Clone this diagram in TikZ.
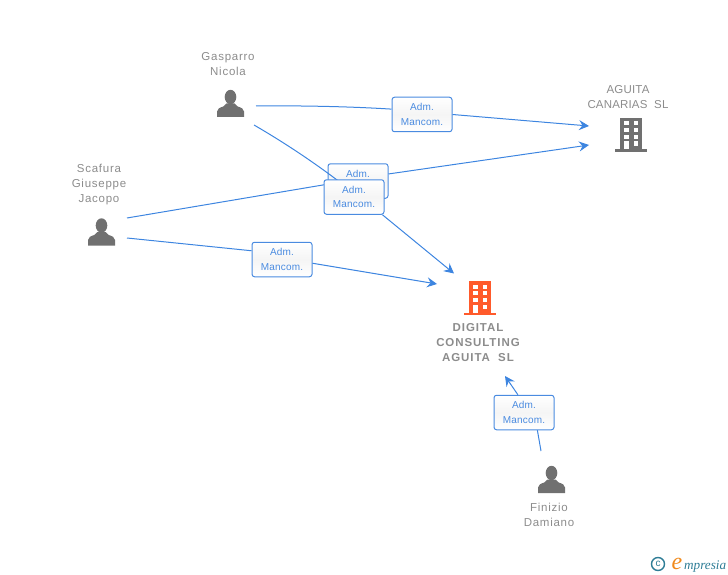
\documentclass[tikz,border=0pt]{standalone}
\usepackage{fontspec}
\setmainfont{Liberation Sans}
\newfontfamily\logofont{Liberation Serif}
\usetikzlibrary{arrows.meta}
\definecolor{linkblue}{HTML}{3D85E0}
\definecolor{boxblue}{HTML}{4A8BE0}
\definecolor{labgray}{HTML}{8C8C8C}
\definecolor{icongray}{HTML}{707070}
\definecolor{iconorange}{HTML}{FF5A2B}
\definecolor{logoteal}{HTML}{2E7D96}
\definecolor{logoorange}{HTML}{F08A1D}
\tikzset{
  rolebox/.style={draw=boxblue,line width=1pt,rounded corners=2.5pt,minimum width=60pt,minimum height=34.5pt,
    inner sep=0pt,top color=white,bottom color=white,middle color=black!4,text=boxblue,align=center,
    font=\fontsize{10}{14.5}\selectfont\addfontfeature{LetterSpace=2}},
  link/.style={draw=linkblue,line width=1pt},
  arrowlink/.style={link,-{Stealth[length=10pt,width=10pt,inset=3.5pt]}},
  caption/.style={text=labgray,align=center,inner sep=0pt,font=\fontsize{11.5}{15}\selectfont\addfontfeature{LetterSpace=6.5}},
  capscaption/.style={text=labgray,align=center,inner sep=0pt,font=\fontsize{11.5}{15}\selectfont\addfontfeature{LetterSpace=1.5}},
  boldcaption/.style={text=labgray,align=center,inner sep=0pt,font=\fontsize{11.5}{15}\selectfont\bfseries\addfontfeature{LetterSpace=8}},
  person/.pic={
    \fill[icongray] (13.5,7) ellipse (5.8 and 7.2);
    \fill[icongray] (0,27) -- (0,21.5) .. controls (0,18.5) and (3,17.6) .. (6.5,16.4)
      -- (9.5,13.5) -- (17.5,13.5) -- (20.5,16.4) .. controls (24,17.6) and (27,18.5) .. (27,21.5) -- (27,27) -- cycle;
  },
  building/.pic={
    \fill[#1] (5,0) rectangle (27,31.5);
    \fill[#1] (0,31.5) rectangle (32,34);
    \foreach \yy in {3.5,10,17}{
      \fill[white] (9,\yy) rectangle (13.5,\yy+4);
      \fill[white] (18.5,\yy) rectangle (23,\yy+4);
    }
    \fill[white] (9,23.5) rectangle (13.5,31.5);
    \fill[white] (18.5,23.5) rectangle (23,28);
  },
}
\begin{document}
\begin{tikzpicture}[x=1pt,y=-1pt]
\useasboundingbox (0,0) rectangle (728,575);
% icons
\pic at (217,90) {person};
\pic at (88,218.5) {person};
\pic at (538,466) {person};
\pic at (615,118) {building=icongray};
\pic at (464,281) {building=iconorange};
% captions
\node[caption] (gasparro) at (228,64.5) {Gasparro\\Nicola};
\node[caption] (scafura) at (99,185) {Scafura\\Giuseppe\\Jacopo};
\node[caption] (finizio) at (549,515) {Finizio\\Damiano};
\node[capscaption] (aguita) at (628,97) {AGUITA\\CANARIAS\ \ SL};
\node[boldcaption] (digital) at (478,343) {DIGITAL\\CONSULTING\\AGUITA\ \ SL};
% connector ends
\coordinate (gasA) at (256,106);
\coordinate (gasB) at (254,125);
\coordinate (scaA) at (127,218);
\coordinate (scaB) at (127,238);
\coordinate (finA) at (541,451);
\coordinate (agu1) at (589,126);
\coordinate (agu2) at (589,145);
\coordinate (dig1) at (454,273.5);
\coordinate (dig2) at (437,284);
\coordinate (dig3) at (505,376);
% boxes and connectors, in stacking order
\node[rolebox] (boxA) at (422,114.5) {\raisebox{-1pt}{Adm.}\\\raisebox{-1pt}{Mancom.}};
\draw[link] (gasA) .. controls (300,105.5) and (350,106.5) .. (boxA.170);
\draw[arrowlink] (boxA.east) -- (agu1);
\node[rolebox] (boxB) at (358,181) {\raisebox{-1pt}{Adm.}\\\raisebox{-1pt}{Mancom.}};
\draw[link] (scaA) -- (boxB.186);
\draw[arrowlink] (boxB.13) -- (agu2);
\draw[link] (gasB) .. controls (285,143) and (315,163) .. (345,186);
\node[rolebox] (boxC) at (354,197) {\raisebox{-1pt}{Adm.}\\\raisebox{-1pt}{Mancom.}};
\draw[arrowlink] (boxC.-32.5) -- (dig1);
\node[rolebox] (boxD) at (282,259.5) {\raisebox{-1pt}{Adm.}\\\raisebox{-1pt}{Mancom.}};
\draw[link] (scaB) -- (boxD.164);
\draw[arrowlink] (boxD.-7) -- (dig2);
\node[rolebox] (boxE) at (524,412.5) {\raisebox{-1pt}{Adm.}\\\raisebox{-1pt}{Mancom.}};
\draw[link] (finA) -- (boxE.-53.5);
\draw[arrowlink] (boxE.109) -- (dig3);
% logo
\node[circle,draw=logoteal,line width=1.4pt,minimum size=13pt,inner sep=0pt,text=logoteal,font=\fontsize{10}{10}\selectfont] (copy) at (658,564) {c};
\node[text=logoorange,inner sep=0pt,anchor=base,font=\logofont\itshape\fontsize{24}{24}\selectfont] (logoe) at (677,569.5) {e};
\node[text=logoteal,inner sep=0pt,anchor=base west,font=\logofont\itshape\fontsize{13.2}{13.2}\selectfont] (logot) at (684,569) {mpresia};
\end{tikzpicture}
\end{document}
